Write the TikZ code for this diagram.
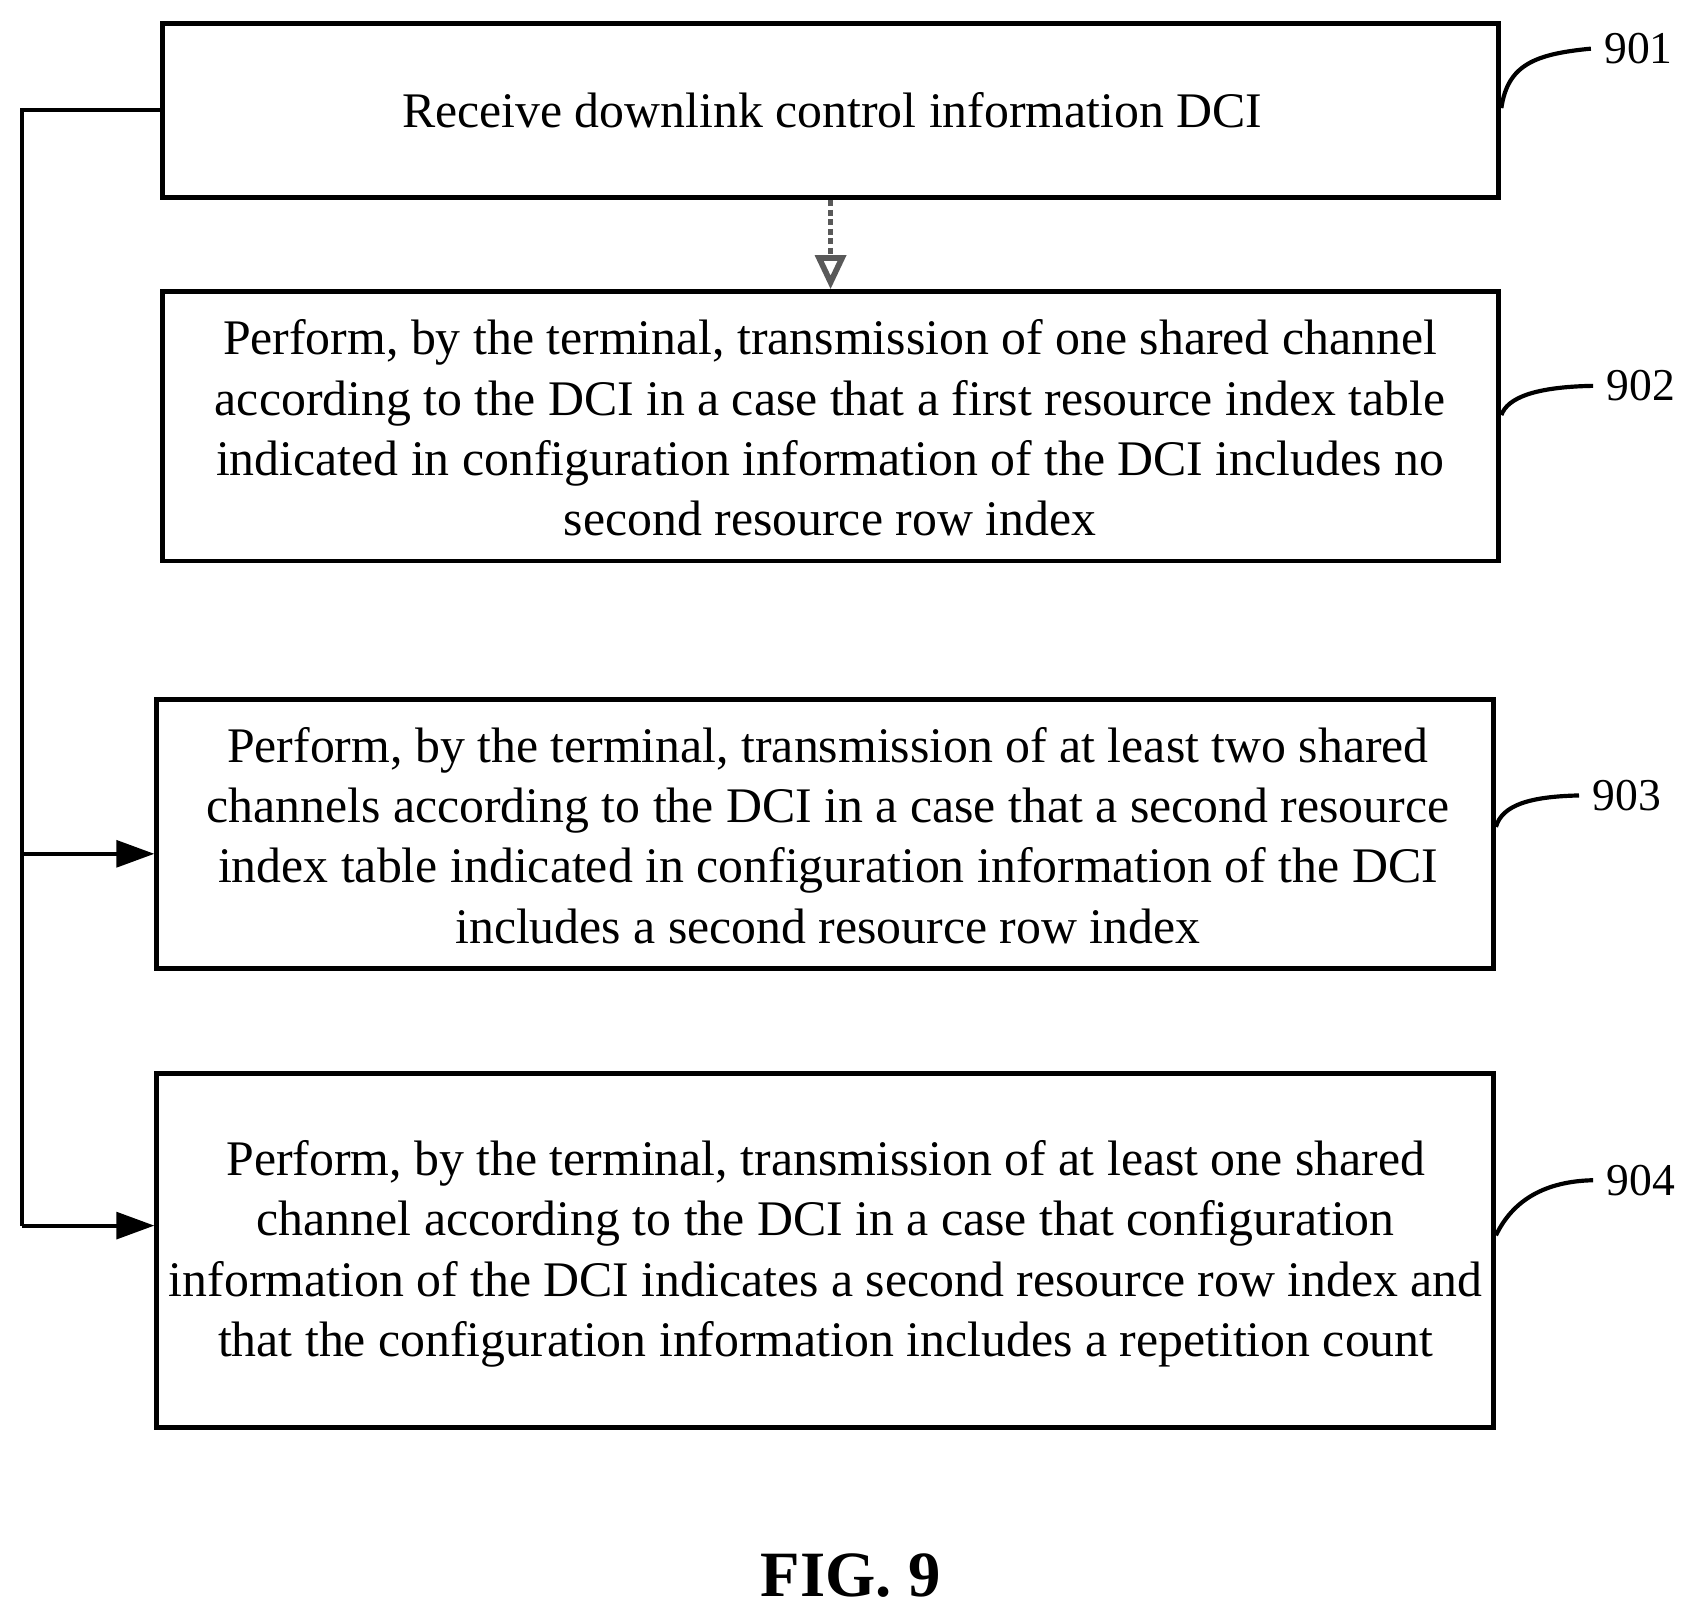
\documentclass[tikz,border=0pt]{standalone}
\usepackage{fontspec}
\setmainfont{Liberation Serif}
\usetikzlibrary{arrows.meta}
\begin{document}
\begin{tikzpicture}[x=0.01cm,y=-0.01cm,
  box/.style={draw,line width=1.3pt,inner sep=0pt},
  txt/.style={align=center,font=\fontsize{13.1pt}{15.9pt}\selectfont},
  lab/.style={font=\fontsize{12pt}{14pt}\selectfont,anchor=west},
  arr/.style={line width=1.1pt,-{Triangle[length=10pt,width=7pt]}}]
\useasboundingbox (0,0) rectangle (1560,1487);
\node[box,minimum width=12.36cm,minimum height=1.61cm] (b1) at (768.5,102.5) {};
\node[txt] (t1) at (770,102) {Receive downlink control information DCI};
\node[box,minimum width=12.36cm,minimum height=2.49cm] (b2) at (768.5,394.5) {};
\node[txt] (t2) at (768,396) {Perform, by the terminal, transmission of one shared channel\\according to the DCI in a case that a first resource index table\\indicated in configuration information of the DCI includes no\\second resource row index};
\node[box,minimum width=12.36cm,minimum height=2.49cm] (b3) at (763.5,771.5) {};
\node[txt] (t3) at (766,773) {Perform, by the terminal, transmission of at least two shared\\channels according to the DCI in a case that a second resource\\index table indicated in configuration information of the DCI\\includes a second resource row index};
\node[box,minimum width=12.36cm,minimum height=3.28cm] (b4) at (763.5,1157) {};
\node[txt] (t4) at (764,1160) {Perform, by the terminal, transmission of at least one shared\\channel according to the DCI in a case that configuration\\information of the DCI indicates a second resource row index and\\that the configuration information includes a repetition count};
\node[font=\bfseries\fontsize{17pt}{20pt}\selectfont] (fig) at (787,1458) {FIG. 9};
\draw[gray!70!black,densely dotted,line width=1.5pt,-{Triangle[open,length=9pt,width=8pt]}] (b1.south) -- (b2.north);
\coordinate (c1) at (20,102);
\coordinate (c3) at (20,790);
\coordinate (c4) at (20,1134);
\draw[line width=1.1pt] (b1.west|-c1) -- (c1) -- (c4);
\draw[arr] (c3) -- (b3.west|-c3);
\draw[arr] (c4) -- (b4.west|-c4);
\node[lab] (l1) at (1472,45) {901};
\node[lab] (l2) at (1474,357) {902};
\node[lab] (l3) at (1461,736) {903};
\node[lab] (l4) at (1474,1092) {904};
\draw[line width=1.1pt] (b1.east|-0,100) .. controls (1395,60) and (1420,50) .. (l1.west);
\draw[line width=1.1pt] (b2.east|-0,384) .. controls (1395,368) and (1420,358) .. (l2.west);
\draw[line width=1.1pt] (b3.east|-0,765) .. controls (1390,745) and (1415,737) .. (l3.west);
\draw[line width=1.1pt] (b4.east|-0,1143) .. controls (1400,1110) and (1430,1093) .. (l4.west);
\end{tikzpicture}
\end{document}
